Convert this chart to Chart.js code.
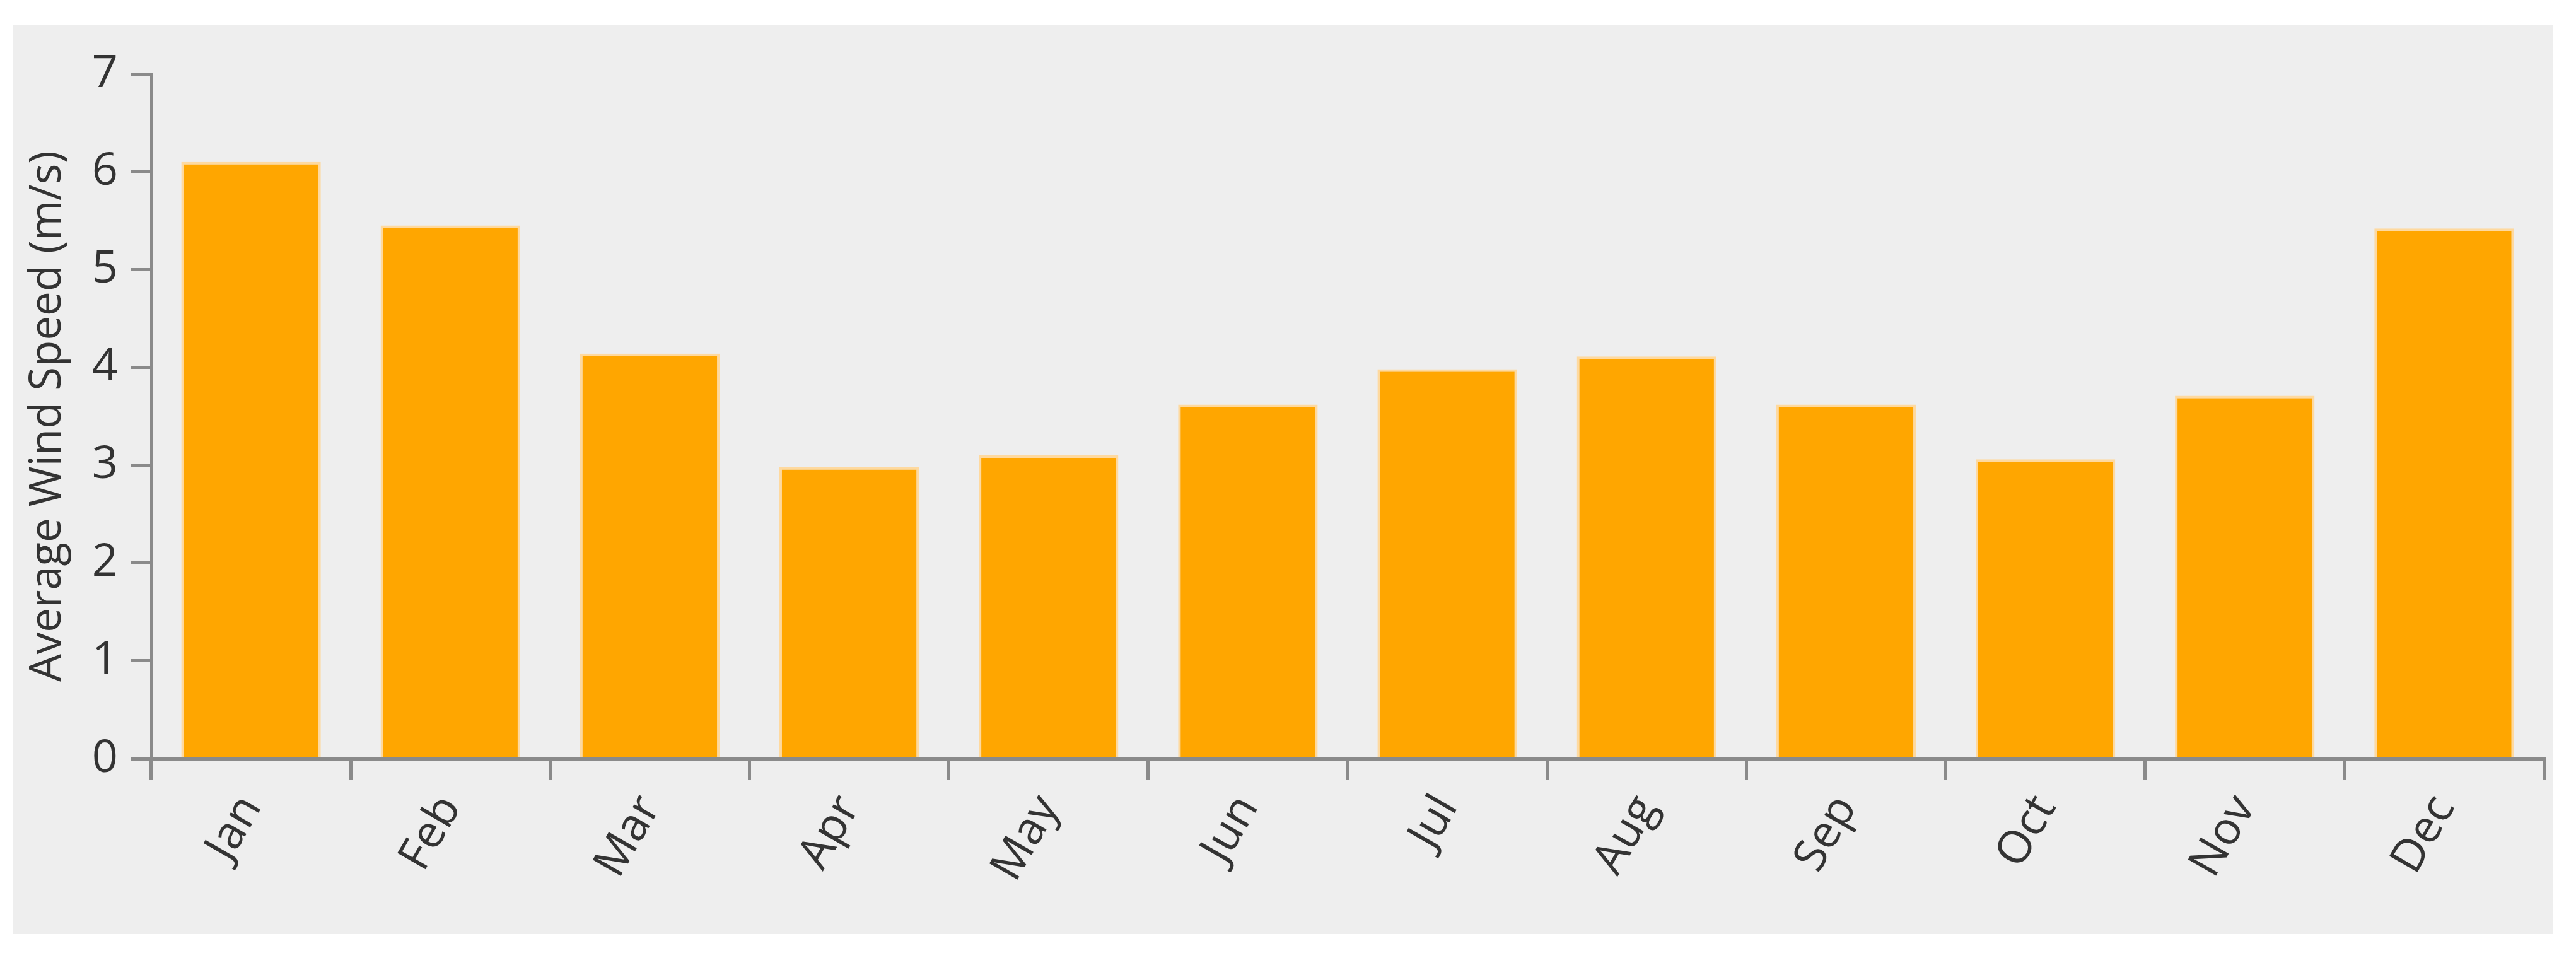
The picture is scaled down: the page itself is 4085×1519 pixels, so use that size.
<!DOCTYPE html>
<html>
<head>
<meta charset="utf-8">
<script src="https://cdn.jsdelivr.net/npm/chart.js@4"></script>
<style>
  html, body { margin: 0; padding: 0; background: #ffffff; width: 4085px; height: 1519px; overflow: hidden; }
  #wrap { position: absolute; left: 21px; top: 39px; width: 4027px; height: 1442px; background: #eeeeee; }
</style>
</head>
<body>
<div id="wrap"><canvas id="windChart"></canvas></div>
<script>
// monthly average wind speed
const months = ['Jan', 'Feb', 'Mar', 'Apr', 'May', 'Jun', 'Jul', 'Aug', 'Sep', 'Oct', 'Nov', 'Dec'];
const windSpeed = [6.1, 5.45, 4.14, 2.98, 3.1, 3.62, 3.98, 4.11, 3.62, 3.06, 3.71, 5.42];
const yTicks = [0, 1, 2, 3, 4, 5, 6, 7];

const axisGrey = '#8a8a8a';
const textColor = '#333333';
const tickFont = { family: 'Open Sans', size: 72 };

document.addEventListener('DOMContentLoaded', () => {
    const ctx = document.getElementById('windChart');

    new Chart(ctx, {
        type: 'bar',
        data: {
            labels: months,
            datasets: [{
                data: windSpeed,
                backgroundColor: '#FFA600',
                borderColor: 'rgba(255, 214, 150, 0.9)',
                borderWidth: 4,
                barPercentage: 0.7,
                categoryPercentage: 1.0
            }]
        },
        options: {
            responsive: true,
            maintainAspectRatio: false,
            animation: false,
            layout: {
                padding: { left: 0, right: 14, top: 78, bottom: 0 }
            },
            scales: {
                x: {
                    offset: true,
                    grid: {
                        offset: true,
                        drawOnChartArea: false,
                        drawTicks: true,
                        tickLength: 34,
                        color: axisGrey,
                        lineWidth: 5
                    },
                    border: { display: true, color: axisGrey, width: 5 },
                    ticks: {
                        color: textColor,
                        font: tickFont,
                        maxRotation: 60,
                        minRotation: 60,
                        padding: 10
                    },
                    afterFit: (scale) => { scale.height = 278; }
                },
                y: {
                    min: 0,
                    max: 7,
                    afterBuildTicks: (scale) => {
                        scale.ticks = yTicks.map(v => ({ value: v }));
                    },
                    grid: {
                        drawOnChartArea: false,
                        drawTicks: true,
                        tickLength: 33,
                        color: axisGrey,
                        lineWidth: 5
                    },
                    border: { display: true, color: axisGrey, width: 5 },
                    ticks: {
                        color: textColor,
                        font: tickFont,
                        padding: 20
                    },
                    title: {
                        display: true,
                        text: 'Average Wind Speed (m/s)',
                        color: textColor,
                        font: { family: 'Open Sans', size: 69 },
                        padding: { top: 14, bottom: 0 }
                    },
                    afterFit: (scale) => { scale.width = 219; }
                }
            },
            plugins: {
                legend: { display: false },
                tooltip: { enabled: false }
            }
        }
    });
});
</script>
</body>
</html>
